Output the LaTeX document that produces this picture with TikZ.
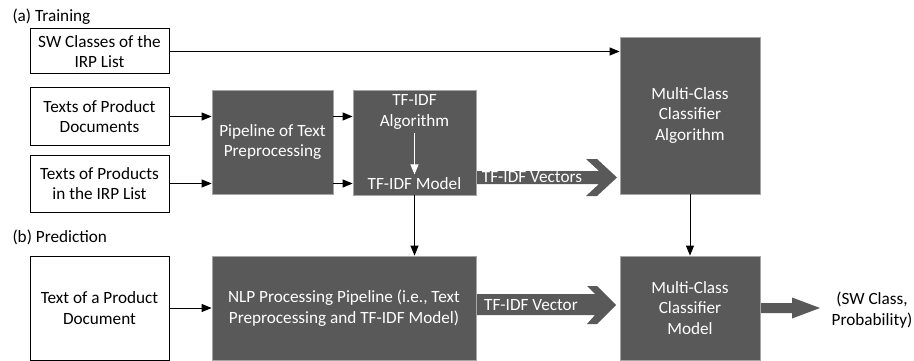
\documentclass[tikz,border=0pt]{standalone}
\usepackage{fontspec}
\setmainfont{Carlito}
\usepackage{xcolor}
\usetikzlibrary{positioning, calc, arrows.meta}

\definecolor{boxgray}{HTML}{595959}
\definecolor{edgegray}{HTML}{A6A6A6}

\begin{document}
\begin{tikzpicture}[x=1pt, y=-1pt,
    font=\fontsize{17.2}{20.5}\selectfont,
    inbox/.style={draw=black, line width=1pt, fill=white, align=center, inner sep=0pt},
    darkbox/.style={draw=edgegray, line width=0.8pt, fill=boxgray, text=white, align=center, inner sep=0pt},
    conn/.style={line width=1pt, -{Triangle[length=10pt, width=8pt]}}]

        \useasboundingbox (0,0) rectangle (914,361);

        % Section labels
        \node[anchor=west] (lbltrain) at (9,17) {(a) Training};
        \node[anchor=west] (lblpred) at (9,237) {(b) Prediction};

        % Training inputs
        \node[inbox, minimum width=139, minimum height=45] (swcls) at (99.5,51.5) {SW Classes of the\\IRP List};
        \node[inbox, minimum width=139, minimum height=57] (txtdocs) at (99.5,116.5) {Texts of Product\\Documents};
        \node[inbox, minimum width=139, minimum height=57] (txtirp) at (99.5,183.5) {Texts of Products\\in the IRP List};

        % Training blocks
        \node[darkbox, minimum width=121, minimum height=104] (prep) at (272.5,142) {Pipeline of Text\\Preprocessing};
        \node[darkbox, minimum width=123, minimum height=105] (tfidf) at (414.5,142.5) {};
        \node[text=white, align=center] (tfalg) at (414.5,112) {TF-IDF\\Algorithm};
        \node[text=white] (tfmod) at (414.5,184) {TF-IDF Model};
        \node[darkbox, minimum width=140, minimum height=157] (mcalg) at (690,115.5) {Multi-Class\\Classifier\\Algorithm};

        % Prediction blocks
        \node[inbox, minimum width=139, minimum height=104] (txtone) at (99.5,308) {Text of a Product\\Document};
        \node[darkbox, minimum width=264, minimum height=104] (nlp) at (344,308) {NLP Processing Pipeline (i.e., Text\\Preprocessing and TF-IDF Model)};
        \node[darkbox, minimum width=140, minimum height=104] (mcmod) at (690,308) {Multi-Class\\Classifier\\Model};
        \node[align=center] (result) at (872,310) {(SW Class,\\Probability)};

        % Connectors
        \draw[conn] (swcls.east) -- (swcls.east -| mcalg.west);
        \draw[conn] (txtdocs.east) -- (txtdocs.east -| prep.west);
        \draw[conn] (txtirp.east) -- (txtirp.east -| prep.west);
        \draw[conn] (prep.east |- txtdocs.east) -- (tfidf.west |- txtdocs.east);
        \draw[conn] (prep.east |- txtirp.east) -- (tfidf.west |- txtirp.east);
        \draw[conn, white] (tfalg.south) -- (tfmod.north);
        \draw[conn] (tfidf.south) -- (tfidf.south |- nlp.north);
        \draw[conn] (mcalg.south) -- (mcmod.north);
        \draw[conn] (txtone.east) -- (txtone.east -| nlp.west);

        % Block arrows
        \fill[boxgray] (477,171) -- (599,171) -- (586,159) -- (597,159) -- (617,177.5)
                    -- (597,196) -- (586,196) -- (599,184) -- (477,184) -- cycle;
        \node[text=white] (vecs) at (532,177.5) {TF-IDF Vectors};
        \fill[boxgray] (477,294) -- (595,294) -- (587,286) -- (597,286) -- (616,305)
                    -- (597,324) -- (587,324) -- (595,315) -- (477,315) -- cycle;
        \node[text=white] (vec) at (531,305) {TF-IDF Vector};
        \fill[boxgray] (761,303) -- (792,303) -- (792,297.5) -- (820,308)
                    -- (792,318.5) -- (792,313) -- (761,313) -- cycle;
  \end{tikzpicture}
\end{document}
